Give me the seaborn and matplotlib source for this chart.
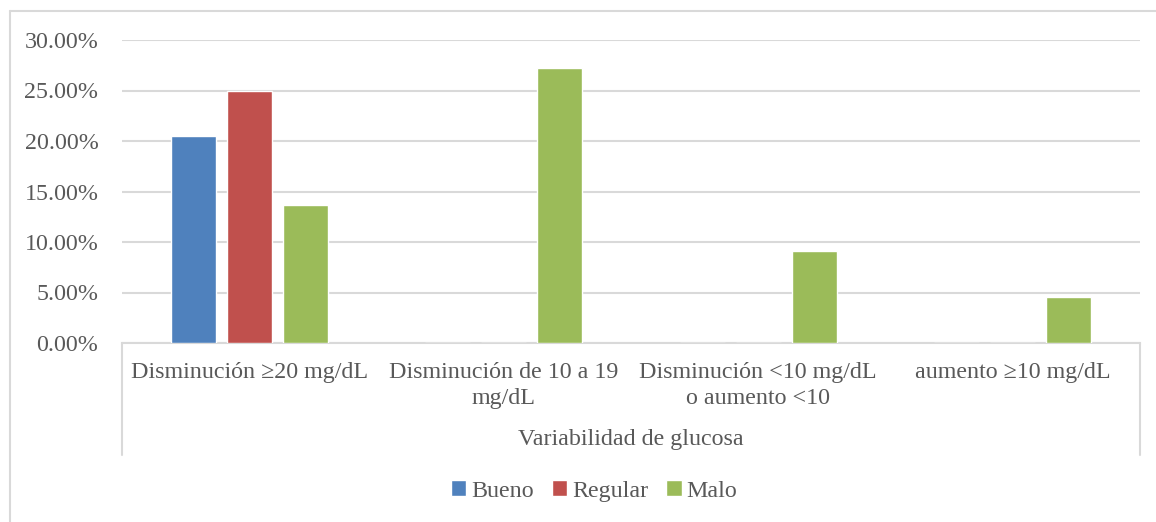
import matplotlib
matplotlib.use("Agg")
import matplotlib.pyplot as plt
from matplotlib.lines import Line2D
from matplotlib.ticker import PercentFormatter
import pandas as pd
import seaborn as sns

# Data: share of patients per glucose-variability category and control level
categories = [
    "Disminución ≥20 mg/dL",
    "Disminución de 10 a 19\nmg/dL",
    "Disminución <10 mg/dL\no aumento <10",
    "aumento ≥10 mg/dL",
]
series = ["Bueno", "Regular", "Malo"]
bueno = [0.2045, 0.0, 0.0, 0.0]
regular = [0.25, 0.0, 0.0, 0.0]
malo = [0.1364, 0.2727, 0.0909, 0.0455]
colors = ["#4F81BD", "#C0504D", "#9BBB59"]

axis_title = "Variabilidad de glucosa"
yticks = [0.0, 0.05, 0.10, 0.15, 0.20, 0.25, 0.30]

df = pd.DataFrame({
    "categoria": categories * 3,
    "grupo": [s for s in series for _ in categories],
    "valor": bueno + regular + malo,
})

sns.set_theme(style="white")
plt.rcParams["font.family"] = ["Liberation Serif", "DejaVu Serif"]
text_color = "#595959"
line_color = "#D9D9D9"
fs = 17.3

W, H = 1156, 522
fig = plt.figure(figsize=(W / 100, H / 100), dpi=100)
ax = fig.add_axes([122 / W, 1 - 343 / H, (1140 - 122) / W, (343 - 40) / H])

sns.barplot(
    data=df, x="categoria", y="valor", hue="grupo",
    order=categories, hue_order=series, palette=colors,
    width=0.66, gap=0.2, saturation=1, ax=ax, errorbar=None,
)

ax.set_xlim(-0.5, len(categories) - 0.5)
ax.set_ylim(0, 0.30)
ax.set_yticks(yticks)
ax.yaxis.set_major_formatter(PercentFormatter(1.0, decimals=2))
ax.grid(axis="y", color=line_color, linewidth=1.5)
ax.set_axisbelow(True)
for side in ["left", "right", "top"]:
    ax.spines[side].set_visible(False)
ax.spines["bottom"].set_color(line_color)
ax.spines["bottom"].set_linewidth(1.5)
ax.spines["bottom"].set_zorder(0.5)

ax.tick_params(axis="y", length=0, pad=17, labelsize=fs, labelcolor=text_color)
ax.tick_params(axis="x", length=0, pad=14, labelsize=fs, labelcolor=text_color)
for lbl in ax.get_xticklabels():
    lbl.set_linespacing(1.3)
    lbl.set_verticalalignment("top")
ax.set_xlabel("")
ax.set_ylabel("")

# Multi-level category axis frame and title
for xpix in (122, 1140):
    fig.add_artist(Line2D([xpix / W, xpix / W], [1 - 343 / H, 1 - 455 / H],
                          color=line_color, linewidth=1.5))
fig.text(631 / W, 1 - 440 / H, axis_title, ha="center", va="center",
         fontsize=fs, color=text_color)

# Chart-area border (top and left edges)
fig.add_artist(Line2D([10 / W, 10 / W], [0, 1 - 11 / H], color=line_color, linewidth=1.5))
fig.add_artist(Line2D([10 / W, 1], [1 - 11 / H, 1 - 11 / H], color=line_color, linewidth=1.5))

handles, labels = ax.get_legend_handles_labels()
ax.legend_.remove()
leg = fig.legend(
    handles, labels, loc="center", bbox_to_anchor=(594 / W, 1 - 491 / H),
    ncol=3, frameon=False, fontsize=fs, handlelength=0.65, handleheight=0.65,
    handletextpad=0.2, columnspacing=0.75,
)
for t in leg.get_texts():
    t.set_color(text_color)

fig.savefig("out.png", dpi=100, facecolor="white")
